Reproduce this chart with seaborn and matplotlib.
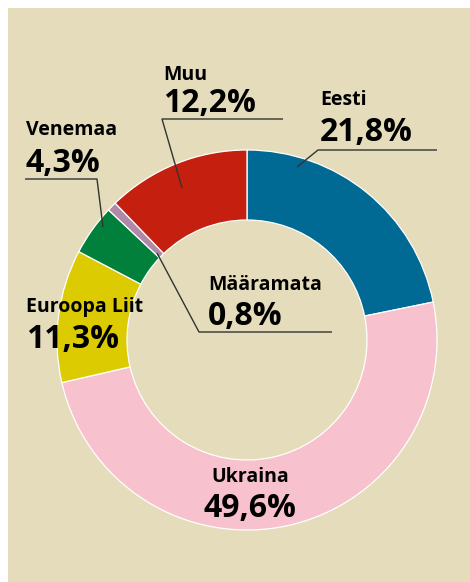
"""
Donut chart: share by country (Eesti, Ukraina, Euroopa Liit, ...).
"""

import matplotlib
matplotlib.use("Agg")
import matplotlib.pyplot as plt
from matplotlib.patches import Rectangle
import seaborn as sns

# data, clockwise from 12 o'clock
CATEGORIES = ["Eesti", "Ukraina", "Euroopa Liit", "Venemaa", "Määramata", "Muu"]
SHARES     = [21.8, 49.6, 11.3, 4.3, 0.8, 12.2]
LABELS     = ["21,8%", "49,6%", "11,3%", "4,3%", "0,8%", "12,2%"]
COLORS     = ["#006994", "#f7c1cd", "#dccb00", "#00803a", "#b088a8", "#c51f0f"]

BG = "#e4dcbb"
LINE = "#333333"
W, H = 470, 582

sns.set_style("white")
plt.rcParams["font.family"] = ["Open Sans", "DejaVu Sans"]


def py(y):
    # pixel row (top origin) -> data y
    return H - y


fig = plt.figure(figsize=(W / 100, H / 100), dpi=100)
fig.patch.set_facecolor("white")
ax = fig.add_axes([0, 0, 1, 1])

ax.add_patch(Rectangle((8, 0), W - 8, H - 7.5, facecolor=BG, edgecolor="none", zorder=0))

palette = sns.color_palette(COLORS)
ax.pie(
    SHARES,
    colors=palette,
    startangle=90,
    counterclock=False,
    center=(247, py(340)),
    radius=190,
    wedgeprops=dict(width=70, edgecolor="white", linewidth=0.9),
)

ax.set_xlim(0, W)
ax.set_ylim(0, H)
ax.set_aspect("equal")
ax.axis("off")

# label positions: (category, x, name baseline, value baseline, ha)
label_pos = {
    "Eesti":        (320, 105, 141, "left"),
    "Ukraina":      (250, 482, 517, "center"),
    "Euroopa Liit": (26, 312, 348, "left"),
    "Venemaa":      (26, 135, 172, "left"),
    "Määramata":    (208, 290, 325, "left"),
    "Muu":          (163, 80, 112, "left"),
}
for cat, lab in zip(CATEGORIES, LABELS):
    x, yn, yv, ha = label_pos[cat]
    ax.text(x, py(yn), cat, fontsize=14, fontweight="bold", ha=ha, va="baseline", color="black")
    ax.text(x, py(yv), lab, fontsize=23, fontweight="bold", ha=ha, va="baseline", color="black")

# leader lines
leaders = [
    [(437, 150), (318, 150), (297, 167)],   # Eesti
    [(25, 179), (97, 179), (103, 227)],     # Venemaa
    [(332, 332), (199, 332), (157, 253)],   # Määramata
    [(283, 119), (162, 119), (182, 188)],   # Muu
]
for pts in leaders:
    xs = [p[0] for p in pts]
    ys = [py(p[1]) for p in pts]
    ax.plot(xs, ys, color=LINE, linewidth=1.0, solid_capstyle="butt", zorder=5)

plt.savefig("out.png", dpi=100)
plt.close()
